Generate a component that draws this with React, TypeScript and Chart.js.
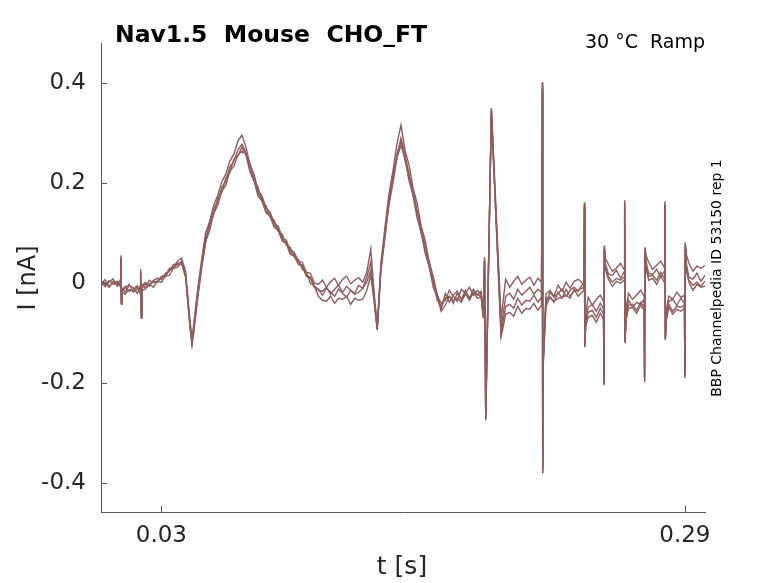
import React, { useEffect, useRef } from 'react';
import Chart from 'chart.js/auto';

// sample times [s]
const times = [
  0.000, 0.002, 0.004, 0.006, 0.008, 0.0096,
  0.0099, 0.0101, 0.0104,
  0.012, 0.014, 0.016, 0.018, 0.0194,
  0.0197, 0.0200, 0.0203,
  0.022, 0.024, 0.026, 0.028, 0.030, 0.032, 0.034, 0.036, 0.038, 0.040,
  0.042, 0.044, 0.0452, 0.046, 0.048,
  0.050, 0.052, 0.054, 0.056, 0.058, 0.060, 0.062, 0.064, 0.066, 0.068, 0.070,
  0.072, 0.074, 0.076, 0.078, 0.080, 0.082, 0.084, 0.086, 0.088, 0.090, 0.092, 0.094, 0.096, 0.098, 0.100, 0.102, 0.104, 0.106, 0.108,
  0.110, 0.112, 0.114, 0.116, 0.118, 0.120, 0.122, 0.124, 0.126, 0.128, 0.130, 0.132, 0.134,
  0.1355, 0.1372, 0.139,
  0.141, 0.143, 0.145, 0.147, 0.149,
  0.151, 0.153, 0.155, 0.157, 0.159, 0.161, 0.163, 0.165, 0.167, 0.169,
  0.171, 0.173, 0.175, 0.177, 0.179, 0.181, 0.183, 0.185, 0.187, 0.1888,
  0.1898, 0.1905, 0.1911, 0.1939, 0.1987,
  0.201, 0.203, 0.205, 0.207, 0.209, 0.211, 0.213, 0.215, 0.217, 0.2188,
  0.2192, 0.2194, 0.2197,
  0.221, 0.223, 0.225, 0.227, 0.229, 0.231, 0.233, 0.235, 0.237, 0.2398,
  0.2401, 0.2403, 0.2408,
  0.242, 0.244, 0.246, 0.248, 0.2496,
  0.2498, 0.2500, 0.2505,
  0.252, 0.254, 0.256, 0.258, 0.2598,
  0.2601, 0.2603, 0.2608,
  0.262, 0.264, 0.266, 0.268, 0.2698,
  0.2700, 0.2702, 0.2707,
  0.272, 0.274, 0.276, 0.278, 0.2798,
  0.2801, 0.2803, 0.2808,
  0.282, 0.284, 0.286, 0.288, 0.2898,
  0.2900, 0.2902, 0.2907,
  0.292, 0.294, 0.296, 0.298, 0.300,
];

// current [nA], one array per repetition
const traceA = [
  0.006, -0.004, 0.002, 0.009, -0.006, 0.001,
  0.056, -0.038, -0.010,
  -0.018, -0.004, -0.009, -0.020, -0.008,
  0.028, -0.068, -0.002,
  -0.010, 0.006, 0.001, 0.004, 0.014, 0.016, 0.030, 0.032, 0.044, 0.050,
  0.024, -0.066, -0.112, -0.084, -0.012,
  0.048, 0.102, 0.124, 0.156, 0.176, 0.203, 0.218, 0.244, 0.258, 0.284, 0.296,
  0.272, 0.236, 0.218, 0.186, 0.174, 0.150, 0.142, 0.120, 0.114, 0.092, 0.086, 0.066, 0.062, 0.044, 0.042, 0.022, 0.020, 0.000, -0.002,
  0.006, -0.008, 0.003, 0.010, -0.004, 0.008, 0.014, -0.001, 0.006, 0.011, 0.002, 0.022, 0.068,
  -0.010, -0.088, 0.040,
  0.110, 0.178, 0.224, 0.279, 0.316,
  0.266, 0.236, 0.190, 0.160, 0.114, 0.086, 0.042, 0.014, -0.024, -0.040,
  -0.034, -0.014, -0.026, -0.036, -0.012, -0.020, -0.008, -0.024, -0.014, -0.022,
  -0.066, 0.052, -0.274, 0.350, -0.070,
  0.008, -0.008, 0.004, 0.014, -0.002, 0.006, 0.012, -0.004, 0.010, 0.002,
  0.402, -0.380, -0.150,
  -0.022, -0.014, -0.026, -0.004, -0.016, 0.002, -0.010, 0.004, 0.008, -0.002,
  0.162, -0.128, -0.060,
  -0.028, -0.044, -0.032, -0.024, -0.036,
  -0.204, 0.076, 0.050,
  0.038, 0.024, 0.030, 0.040, 0.028,
  0.166, -0.120, -0.050,
  -0.020, -0.032, -0.024, -0.014, -0.026,
  -0.198, 0.072, 0.056,
  0.042, 0.028, 0.036, 0.044, 0.032,
  0.164, -0.114, -0.052,
  -0.026, -0.032, -0.018, -0.028, -0.024,
  -0.190, 0.082, 0.058,
  0.040, 0.024, 0.034, 0.030, 0.036,
];

const traceB = [
  -0.002, 0.007, -0.006, -0.001, 0.004, -0.005,
  0.050, -0.040, -0.014,
  -0.006, -0.016, -0.012, -0.005, -0.018,
  0.022, -0.064, -0.006,
  0.002, -0.006, 0.006, 0.010, 0.008, 0.020, 0.024, 0.038, 0.036, 0.044,
  0.016, -0.074, -0.120, -0.094, -0.026,
  0.036, 0.082, 0.120, 0.138, 0.170, 0.182, 0.210, 0.222, 0.248, 0.254, 0.272,
  0.256, 0.222, 0.204, 0.174, 0.164, 0.140, 0.134, 0.112, 0.106, 0.084, 0.080, 0.058, 0.054, 0.038, 0.034, 0.014, 0.010, -0.008, -0.014,
  -0.016, -0.008, -0.022, -0.012, -0.004, -0.018, -0.006, -0.014, -0.020, -0.004, -0.010, 0.012, 0.042,
  -0.020, -0.092, 0.030,
  0.098, 0.162, 0.218, 0.254, 0.290,
  0.258, 0.216, 0.188, 0.142, 0.114, 0.070, 0.044, 0.000, -0.022, -0.052,
  -0.020, -0.038, -0.024, -0.016, -0.034, -0.022, -0.030, -0.012, -0.024, -0.016,
  -0.060, 0.046, -0.268, 0.344, -0.090,
  -0.026, -0.020, -0.032, -0.012, -0.024, -0.016, -0.008, -0.022, -0.012, -0.018,
  0.396, -0.372, -0.146,
  -0.040, -0.018, -0.028, -0.020, -0.012, -0.026, -0.014, -0.008, -0.016, 0.002,
  0.158, -0.124, -0.072,
  -0.048, -0.042, -0.056, -0.040, -0.052,
  -0.200, 0.074, 0.040,
  0.018, 0.016, 0.026, 0.010, 0.022,
  0.162, -0.116, -0.062,
  -0.034, -0.048, -0.038, -0.042, -0.032,
  -0.194, 0.070, 0.044,
  0.020, 0.018, 0.028, 0.012, 0.024,
  0.160, -0.110, -0.064,
  -0.036, -0.032, -0.044, -0.030, -0.040,
  -0.186, 0.078, 0.040,
  0.012, 0.008, 0.020, 0.004, 0.016,
];

const traceC = [
  0.001, -0.007, 0.005, 0.000, -0.003, 0.007,
  0.046, -0.034, -0.016,
  -0.010, -0.002, -0.018, -0.012, -0.006,
  0.018, -0.060, -0.010,
  -0.002, -0.002, 0.004, 0.002, 0.012, 0.014, 0.026, 0.030, 0.040, 0.042,
  0.018, -0.072, -0.118, -0.090, -0.024,
  0.040, 0.094, 0.114, 0.148, 0.164, 0.192, 0.204, 0.232, 0.244, 0.266, 0.278,
  0.262, 0.228, 0.210, 0.180, 0.168, 0.144, 0.136, 0.116, 0.110, 0.088, 0.082, 0.062, 0.058, 0.040, 0.036, 0.016, 0.012, -0.006, -0.012,
  -0.024, -0.010, -0.018, -0.026, -0.012, -0.020, -0.028, -0.014, -0.022, -0.018, -0.010, 0.002, 0.026,
  -0.028, -0.090, 0.028,
  0.096, 0.164, 0.206, 0.258, 0.284,
  0.246, 0.218, 0.174, 0.144, 0.100, 0.074, 0.032, 0.004, -0.034, -0.046,
  -0.030, -0.026, -0.040, -0.020, -0.032, -0.014, -0.030, -0.020, -0.022, -0.026,
  -0.062, 0.048, -0.262, 0.338, -0.100,
  -0.046, -0.042, -0.050, -0.030, -0.044, -0.034, -0.036, -0.024, -0.038, -0.028,
  0.390, -0.366, -0.154,
  -0.030, -0.028, -0.038, -0.018, -0.030, -0.012, -0.026, -0.016, -0.014, -0.008,
  0.154, -0.126, -0.078,
  -0.058, -0.054, -0.068, -0.050, -0.062,
  -0.198, 0.070, 0.034,
  0.014, 0.002, 0.010, 0.006, 0.012,
  0.158, -0.118, -0.070,
  -0.044, -0.042, -0.054, -0.038, -0.048,
  -0.190, 0.068, 0.036,
  0.014, 0.016, 0.006, 0.022, 0.010,
  0.156, -0.112, -0.070,
  -0.042, -0.056, -0.046, -0.048, -0.044,
  -0.182, 0.076, 0.032,
  0.006, -0.004, 0.002, -0.006, 0.004,
];

const traceD = [
  -0.004, 0.001, -0.008, 0.004, 0.002, -0.006,
  0.052, -0.042, -0.018,
  -0.022, -0.012, -0.016, -0.008, -0.020,
  0.024, -0.070, -0.014,
  -0.012, -0.002, -0.008, 0.004, 0.002, 0.014, 0.016, 0.030, 0.032, 0.040,
  0.012, -0.080, -0.124, -0.100, -0.032,
  0.030, 0.084, 0.106, 0.140, 0.156, 0.184, 0.196, 0.224, 0.234, 0.256, 0.264,
  0.258, 0.240, 0.206, 0.192, 0.164, 0.154, 0.132, 0.126, 0.104, 0.098, 0.076, 0.072, 0.052, 0.048, 0.028, 0.022, 0.000, -0.006, -0.026,
  -0.034, -0.036, -0.026, -0.040, -0.030, -0.032, -0.026, -0.042, -0.030, -0.034, -0.032, -0.014, 0.016,
  -0.032, -0.094, 0.024,
  0.090, 0.156, 0.200, 0.250, 0.276,
  0.248, 0.204, 0.176, 0.130, 0.102, 0.060, 0.034, -0.008, -0.028, -0.056,
  -0.044, -0.026, -0.034, -0.030, -0.038, -0.020, -0.034, -0.018, -0.030, -0.026,
  -0.070, 0.044, -0.270, 0.346, -0.108,
  -0.062, -0.058, -0.066, -0.046, -0.060, -0.050, -0.052, -0.040, -0.054, -0.044,
  0.384, -0.376, -0.160,
  -0.046, -0.028, -0.036, -0.030, -0.028, -0.024, -0.030, -0.012, -0.026, -0.014,
  0.150, -0.122, -0.084,
  -0.068, -0.064, -0.078, -0.060, -0.072,
  -0.202, 0.068, 0.028,
  0.008, -0.006, 0.004, 0.000, 0.006,
  0.154, -0.114, -0.074,
  -0.050, -0.048, -0.060, -0.044, -0.054,
  -0.186, 0.066, 0.030,
  0.006, 0.010, -0.002, 0.014, 0.002,
  0.152, -0.108, -0.074,
  -0.048, -0.062, -0.052, -0.056, -0.050,
  -0.178, 0.072, 0.026,
  0.002, -0.014, -0.002, -0.008, -0.006,
];

const traces = [traceA, traceB, traceC, traceD];
const xTicks = [0.03, 0.29];
const yTicks = [-0.4, -0.2, 0, 0.2, 0.4];

const FONT = '"DejaVu Sans", sans-serif';
const traceColor = '#8d5e5d';
const axisColor = '#595959';
const textColor = '#262626';

const decorations = {
  id: 'decorations',
  afterDraw: (chart: any) => {
    const { ctx, chartArea, scales } = chart;
    ctx.save();

    // inward tick marks
    ctx.strokeStyle = axisColor;
    ctx.lineWidth = 1;
    ctx.beginPath();
    yTicks.forEach(v => {
      const y = Math.round(scales.y.getPixelForValue(v)) + 0.5;
      ctx.moveTo(chartArea.left, y);
      ctx.lineTo(chartArea.left + 6, y);
    });
    xTicks.forEach(v => {
      const x = Math.round(scales.x.getPixelForValue(v)) + 0.5;
      ctx.moveTo(x, chartArea.bottom);
      ctx.lineTo(x, chartArea.bottom - 6);
    });
    ctx.stroke();

    // title
    ctx.fillStyle = '#000';
    ctx.textAlign = 'left';
    ctx.textBaseline = 'alphabetic';
    ctx.font = `bold 23.5px ${FONT}`;
    ctx.fillText('Nav1.5  Mouse  CHO_FT', 115, 42);

    ctx.font = `19px ${FONT}`;
    ctx.fillText('30 °C  Ramp', 585, 48);

    // side note
    ctx.save();
    ctx.translate(717, 278);
    ctx.rotate(-Math.PI / 2);
    ctx.textAlign = 'center';
    ctx.textBaseline = 'middle';
    ctx.font = `14px ${FONT}`;
    ctx.fillText('BBP Channelpedia ID 53150 rep 1', 0, 0);
    ctx.restore();

    // axis titles
    ctx.fillStyle = textColor;
    ctx.save();
    ctx.translate(29, 278);
    ctx.rotate(-Math.PI / 2);
    ctx.textAlign = 'center';
    ctx.textBaseline = 'middle';
    ctx.font = `24px ${FONT}`;
    ctx.fillText('I [nA]', 0, 0);
    ctx.restore();

    ctx.textAlign = 'center';
    ctx.textBaseline = 'middle';
    ctx.font = `25px ${FONT}`;
    ctx.fillText('t [s]', 402, 567);

    ctx.restore();
  },
};

const App = () => {
  const canvasRef = useRef<HTMLCanvasElement>(null);
  const chartRef = useRef<Chart | null>(null);

  useEffect(() => {
    document.body.style.margin = '0';
    if (chartRef.current) {
      chartRef.current.destroy();
    }
    const ctx = canvasRef.current?.getContext('2d');
    if (!ctx) return;

    chartRef.current = new Chart(ctx, {
      type: 'line',
      data: {
        datasets: traces.map(tr => ({
          data: times.map((t, i) => ({ x: t, y: tr[i] })),
          borderColor: traceColor,
          borderWidth: 1.4,
          pointRadius: 0,
          fill: false,
          tension: 0,
        })),
      },
      options: {
        responsive: false,
        animation: false,
        layout: {
          padding: { top: 43, right: 73, left: 0, bottom: 0 },
        },
        scales: {
          x: {
            type: 'linear',
            min: 0,
            max: 0.3,
            afterFit: (scale: any) => {
              scale.height = 71;
            },
            afterBuildTicks: (scale: any) => {
              scale.ticks = xTicks.map(v => ({ value: v }));
            },
            grid: { display: false, drawTicks: false },
            border: { display: true, color: axisColor, width: 1 },
            ticks: {
              color: textColor,
              font: { family: FONT, size: 23 },
              padding: 10,
              maxRotation: 0,
              autoSkip: false,
              callback: (v: any) => String(v),
            },
          },
          y: {
            type: 'linear',
            min: -0.457,
            max: 0.48,
            afterFit: (scale: any) => {
              scale.width = 101;
            },
            afterBuildTicks: (scale: any) => {
              scale.ticks = yTicks.map(v => ({ value: v }));
            },
            grid: { display: false, drawTicks: false },
            border: { display: true, color: axisColor, width: 1 },
            ticks: {
              color: textColor,
              font: { family: FONT, size: 23 },
              padding: 15,
              autoSkip: false,
              callback: (v: any) => (v === 0 ? '0' : String(v)),
            },
          },
        },
        plugins: {
          legend: { display: false },
          tooltip: { enabled: false },
        },
      },
      plugins: [decorations],
    });

    return () => {
      if (chartRef.current) {
        chartRef.current.destroy();
        chartRef.current = null;
      }
    };
  }, []);

  return (
    <div style={{ width: 778, height: 583 }}>
      <canvas ref={canvasRef} width={778} height={583} style={{ display: 'block' }} />
    </div>
  );
};

export default App;
